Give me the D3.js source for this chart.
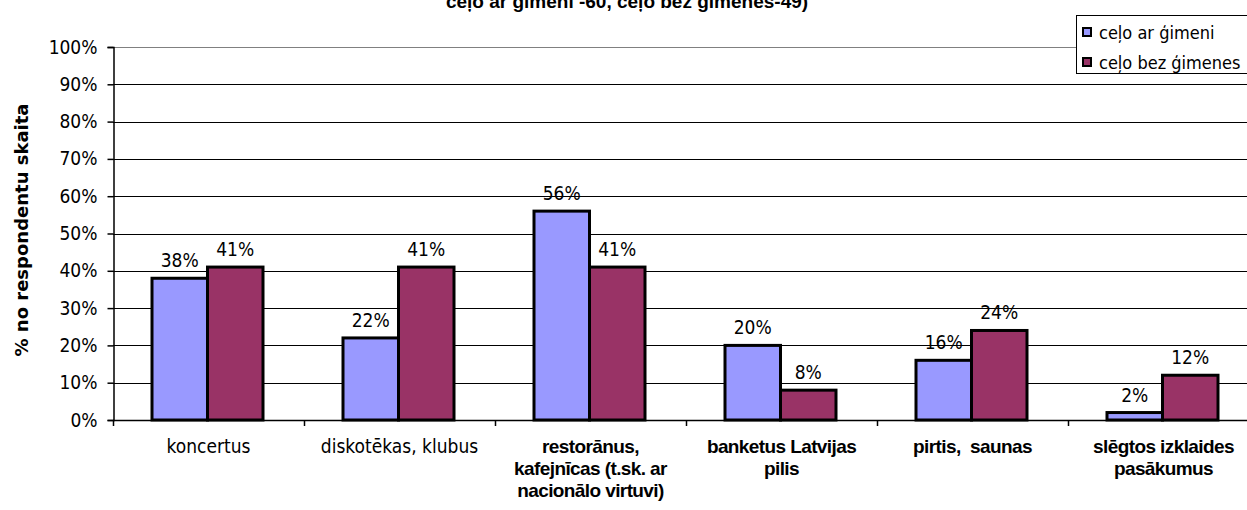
<!DOCTYPE html>
<html>
<head>
<meta charset="utf-8">
<script src="https://cdn.jsdelivr.net/npm/d3@7"></script>
<style>
	body { margin: 0; background: #fff; }
	svg { display: block; }
	.lbl { font-family: "DejaVu Sans Condensed", "DejaVu Sans", sans-serif; font-stretch: condensed; font-size: 19px; fill: #000; }
	.blbl { font-family: "Liberation Sans", Arial, sans-serif; font-weight: bold; font-size: 19px; letter-spacing: -0.6px; fill: #000; }
	.legend text { font-size: 18px; }
</style>
</head>
<body>
<div id="chart"></div>
<script>
	var categories = [
		["koncertus"],
		["diskotēkas, klubus"],
		["restorānus,", "kafejnīcas (t.sk. ar", "nacionālo virtuvi)"],
		["banketus Latvijas", "pilis"],
		["pirtis,  saunas"],
		["slēgtos izklaides", "pasākumus"]
	];
	var boldLabel = [false, false, true, true, true, true];
	var seriesNames = ["ceļo ar ģimeni", "ceļo bez ģimenes"];
	var seriesColors = ["#9999FF", "#993366"];
	var withFamily = [38, 22, 56, 20, 16, 2];
	var withoutFamily = [41, 41, 41, 8, 24, 12];
	var yTicks = [0, 10, 20, 30, 40, 50, 60, 70, 80, 90, 100];
	var titleText = "ceļo ar ģimeni -60, ceļo bez ģimenes-49)";
	var yTitle = "% no respondentu skaita";

	function drawChart() {
		var WIDTH = 1247, HEIGHT = 510;
		var PLOT = { left: 113, top: 47, bottom: 420, catW: 191 };
		var svg = d3.select('#chart').append('svg').attr('width', WIDTH).attr('height', HEIGHT);

		var xScale = d3.scaleBand().domain(d3.range(categories.length))
				.range([ PLOT.left, PLOT.left + PLOT.catW * categories.length ]).padding(0);
		var xInner = d3.scaleBand().domain([0, 1]).range([ 39, 150 ]).padding(0);
		var yScale = d3.scaleLinear().domain([ 0, 100 ]).range([ PLOT.bottom, PLOT.top ]);
		var xRight = PLOT.left + PLOT.catW * categories.length;

		// gridlines
		svg.append('g').selectAll('line').data(yTicks.filter(function(d) { return d > 0; }))
			.enter().append('line')
			.attr('x1', PLOT.left).attr('x2', xRight)
			.attr('y1', function(d) { return Math.round(yScale(d)) + 0.5; })
			.attr('y2', function(d) { return Math.round(yScale(d)) + 0.5; })
			.attr('stroke', function(d) { return d === 100 ? '#808080' : '#000'; })
			.attr('stroke-width', 1);

		// bars
		var data = [];
		categories.forEach(function(c, i) {
			data.push({ cat: i, s: 0, v: withFamily[i] });
			data.push({ cat: i, s: 1, v: withoutFamily[i] });
		});
		var bars = svg.append('g');
		bars.selectAll('rect').data(data).enter().append('rect')
			.attr('x', function(d) { return xScale(d.cat) + xInner(d.s); })
			.attr('y', function(d) { return yScale(d.v); })
			.attr('width', xInner.bandwidth())
			.attr('height', function(d) { return yScale(0) - yScale(d.v); })
			.attr('fill', function(d) { return seriesColors[d.s]; })
			.attr('stroke', '#000').attr('stroke-width', 3);

		bars.selectAll('text').data(data).enter().append('text')
			.attr('class', 'lbl')
			.attr('x', function(d) { return xScale(d.cat) + xInner(d.s) + xInner.bandwidth() / 2; })
			.attr('y', function(d) { return yScale(d.v) - 11; })
			.attr('text-anchor', 'middle')
			.text(function(d) { return d.v + '%'; });

		// y axis
		var yAxis = d3.axisLeft(yScale).tickValues(yTicks).tickSize(6).tickPadding(10)
			.tickFormat(function(d) { return d + '%'; });
		var gY = svg.append('g').attr('transform', 'translate(' + (PLOT.left + 0.5) + ',0)').call(yAxis);
		gY.select('.domain').attr('stroke', '#000').attr('stroke-width', 1.5);
		gY.selectAll('.tick line').attr('stroke', '#000').attr('stroke-width', 1.5);
		gY.selectAll('.tick text').attr('class', 'lbl').attr('font-size', null).attr('font-family', null);

		// x axis line + ticks at category edges
		var gX = svg.append('g');
		gX.append('line').attr('x1', PLOT.left).attr('x2', xRight)
			.attr('y1', PLOT.bottom + 0.5).attr('y2', PLOT.bottom + 0.5)
			.attr('stroke', '#000').attr('stroke-width', 1.5);
		gX.selectAll('.xt').data(d3.range(categories.length + 1)).enter().append('line')
			.attr('class', 'xt')
			.attr('x1', function(d) { return Math.round(PLOT.left + d * PLOT.catW) + 0.5; })
			.attr('x2', function(d) { return Math.round(PLOT.left + d * PLOT.catW) + 0.5; })
			.attr('y1', PLOT.bottom).attr('y2', PLOT.bottom + 6)
			.attr('stroke', '#000').attr('stroke-width', 1.5);

		categories.forEach(function(lines, i) {
			var t = gX.append('text')
				.attr('class', boldLabel[i] ? 'blbl' : 'lbl')
				.attr('text-anchor', 'middle')
				.attr('xml:space', 'preserve');
			lines.forEach(function(l, j) {
				t.append('tspan').attr('x', xScale(i) + PLOT.catW / 2).attr('y', 453 + j * 22).text(l);
			});
		});

		// y title
		svg.append('text')
			.attr('transform', 'translate(28,230) rotate(-90)')
			.attr('text-anchor', 'middle')
			.style('font-family', '"DejaVu Sans", sans-serif').style('font-weight', 'bold')
			.style('font-size', '18px')
			.text(yTitle);

		// title (cut at top, as in the source)
		svg.append('text')
			.attr('x', 627).attr('y', 8)
			.attr('text-anchor', 'middle')
			.style('font-family', '"Liberation Sans", Arial, sans-serif').style('font-weight', 'bold')
			.style('font-size', '19px')
			.text(titleText);

		// legend
		var legend = svg.append('g').attr('class', 'legend');
		legend.append('rect').attr('x', 1076.5).attr('y', 15.5).attr('width', 200).attr('height', 58)
			.attr('fill', '#fff').attr('stroke', '#000').attr('stroke-width', 1);
		seriesNames.forEach(function(name, i) {
			legend.append('rect').attr('x', 1083).attr('y', 28 + i * 30).attr('width', 8).attr('height', 8)
				.attr('fill', seriesColors[i]).attr('stroke', '#000').attr('stroke-width', 2);
			legend.append('text').attr('class', 'lbl').attr('x', 1099).attr('y', 39 + i * 30).text(name);
		});
	}

	drawChart();
</script>
</body>
</html>
